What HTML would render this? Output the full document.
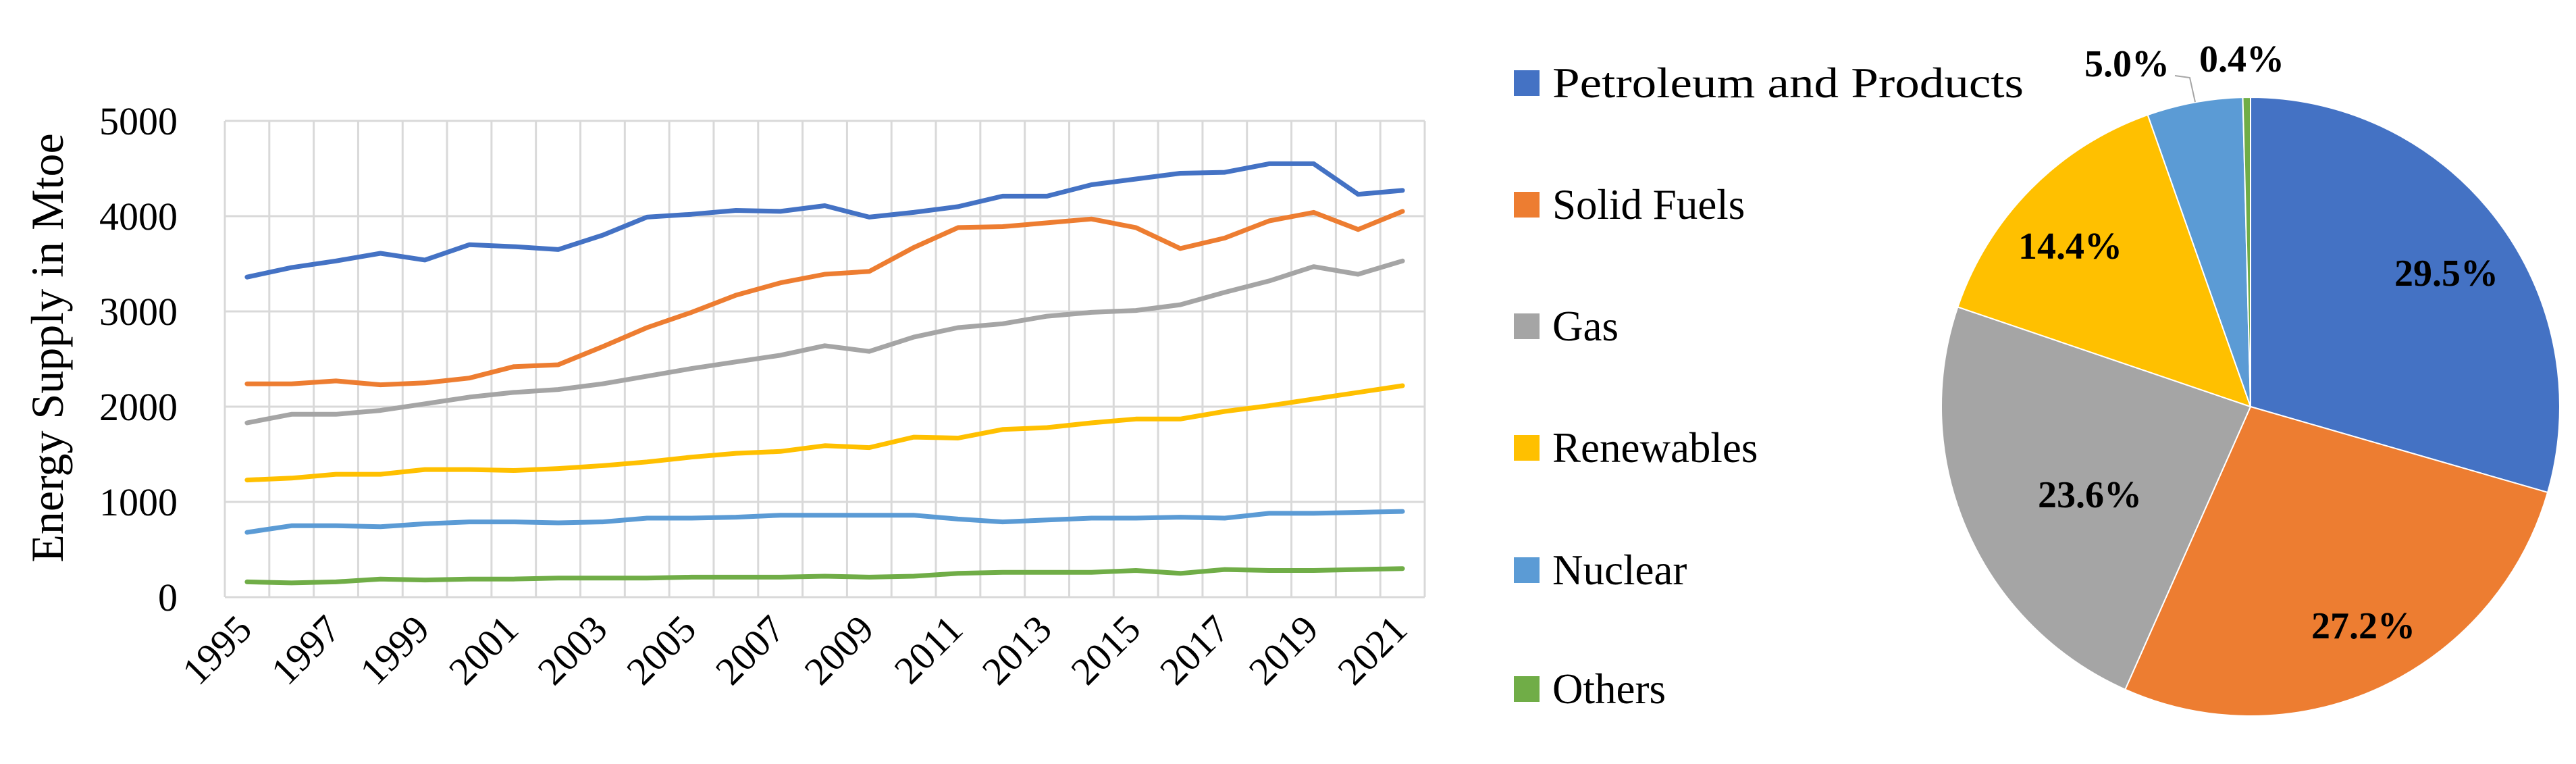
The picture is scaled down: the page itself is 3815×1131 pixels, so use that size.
<!DOCTYPE html>
<html><head><meta charset="utf-8"><style>
html,body{margin:0;padding:0;background:#fff}
svg{display:block}
text{font-family:"Liberation Serif",serif;fill:#000}
</style></head><body>
<svg id="chart" width="3815" height="1131" viewBox="0 0 3815 1131" xmlns="http://www.w3.org/2000/svg">
<g id="line-chart"></g>
<g id="legend"></g>
<g id="pie-chart"></g>
</svg>
<script>
const years = [1995,1996,1997,1998,1999,2000,2001,2002,2003,2004,2005,2006,2007,2008,2009,2010,2011,2012,2013,2014,2015,2016,2017,2018,2019,2020,2021];
const petroleum = [3360,3460,3530,3610,3540,3700,3680,3650,3800,3990,4020,4060,4050,4110,3990,4040,4100,4210,4210,4330,4390,4450,4460,4550,4550,4230,4270];
const solidFuels = [2240,2240,2270,2230,2250,2300,2420,2440,2630,2830,2990,3170,3300,3390,3420,3670,3880,3890,3930,3970,3880,3660,3770,3950,4040,3860,4050];
const gas = [1830,1920,1920,1960,2030,2100,2150,2180,2240,2320,2400,2470,2540,2640,2580,2730,2830,2870,2950,2990,3010,3070,3200,3320,3470,3390,3530];
const renewables = [1230,1250,1290,1290,1340,1340,1330,1350,1380,1420,1470,1510,1530,1590,1570,1680,1670,1760,1780,1830,1870,1870,1950,2010,2080,2150,2220];
const nuclear = [680,750,750,740,770,790,790,780,790,830,830,840,860,860,860,860,820,790,810,830,830,840,830,880,880,890,900];
const others = [160,150,160,190,180,190,190,200,200,200,210,210,210,220,210,220,250,260,260,260,280,250,290,280,280,290,300];
const yTicks = [0,1000,2000,3000,4000,5000];
const xTickLabels = ["1995","1997","1999","2001","2003","2005","2007","2009","2011","2013","2015","2017","2019","2021"];
const seriesNames = ["Petroleum and Products","Solid Fuels","Gas","Renewables","Nuclear","Others"];
const seriesColors = ["#4472c4","#ed7d31","#a5a5a5","#ffc000","#5b9bd5","#70ad47"];
const pieShares = [29.5,27.2,23.6,14.4,5.0,0.4];
const pieLabels = ["29.5%","27.2%","23.6%","14.4%","5.0%","0.4%"];

const NS="http://www.w3.org/2000/svg";
function mk(tag,attrs,parent){const e=document.createElementNS(NS,tag);for(const k in attrs)e.setAttribute(k,attrs[k]);parent.appendChild(e);return e;}

const PL=333, PR=2110, PT=179, PB=884, YMAX=5000;
const n=years.length, step=(PR-PL)/n;
const xS=i=>PL+step*(i+0.5);
const yS=v=>PB-(v/YMAX)*(PB-PT);
const lc=document.getElementById('line-chart');

for(let i=0;i<=n;i++){
  const g=mk('line',{x1:PL+step*i,x2:PL+step*i,y1:PT,y2:PB,stroke:'#d9d9d9','stroke-width':3},lc);
  
  
}
yTicks.forEach(t=>{
  const g=mk('line',{x1:PL,x2:PR,y1:yS(t),y2:yS(t),stroke:'#d9d9d9','stroke-width':3},lc);
  
  
  const tx=mk('text',{x:263,y:yS(t)+20,'text-anchor':'end','font-size':58},lc);
  tx.textContent=String(t);
  
  
});
const yt=mk('text',{x:0,y:0,'text-anchor':'middle','font-size':68,transform:'translate(93,515) rotate(-90)'},lc);
yt.textContent='Energy Supply in Mtoe';



xTickLabels.forEach(lbl=>{
  const i=years.indexOf(+lbl);
  const x=xS(i)+10, y=935;
  const tx=mk('text',{x:0,y:0,'text-anchor':'end','font-size':58,transform:`translate(${x},${y}) rotate(-45)`},lc);
  tx.textContent=lbl;
  
  
});

[petroleum,solidFuels,gas,renewables,nuclear,others].forEach((arr,si)=>{
  const pts=arr.map((v,i)=>xS(i).toFixed(1)+','+yS(v).toFixed(1)).join(' ');
  const p=mk('polyline',{points:pts,fill:'none',stroke:seriesColors[si],'stroke-width':7,'stroke-linejoin':'round','stroke-linecap':'round'},lc);
  
  
});

const lg=document.getElementById('legend');
const legY=[123,303,483,663,844,1020];
seriesNames.forEach((nm,i)=>{
  const r=mk('rect',{x:2242,y:legY[i]-19,width:38,height:38,fill:seriesColors[i]},lg);
  
  
  const t=mk('text',{x:2299,y:legY[i]+21,'font-size':63},lg);
  t.textContent=nm;
  if(i===0){t.setAttribute('textLength',698);t.setAttribute('lengthAdjust','spacingAndGlyphs');}
  
  
});

const pc=document.getElementById('pie-chart');
const CX=3333, CY=602, R=458;
const total=pieShares.reduce((a,b)=>a+b,0);
let a0=0;
const labelPos=[[3623,404],[3500,926],[3095,732],[3066,364],[3150,94],[3320,87]];
pieShares.forEach((s,i)=>{
  const a1=a0+s/total*2*Math.PI;
  const p=(a)=>[CX+R*Math.sin(a),CY-R*Math.cos(a)];
  const [x0,y0]=p(a0),[x1,y1]=p(a1);
  const large=(a1-a0)>Math.PI?1:0;
  const path=mk('path',{d:`M${CX},${CY} L${x0},${y0} A${R},${R} 0 ${large} 1 ${x1},${y1} Z`,fill:seriesColors[i],stroke:'#fff','stroke-width':2},pc);
  
  
  a0=a1;
});
const leader=mk('polyline',{points:'3221,112 3243,115 3251,151',fill:'none',stroke:'#a6a6a6','stroke-width':2},pc);


pieLabels.forEach((l,i)=>{
  const t=mk('text',{x:labelPos[i][0],y:labelPos[i][1]+19,'text-anchor':'middle','font-size':56,'font-weight':'bold'},pc);
  t.textContent=l;
  
  
});
</script>
</body></html>
